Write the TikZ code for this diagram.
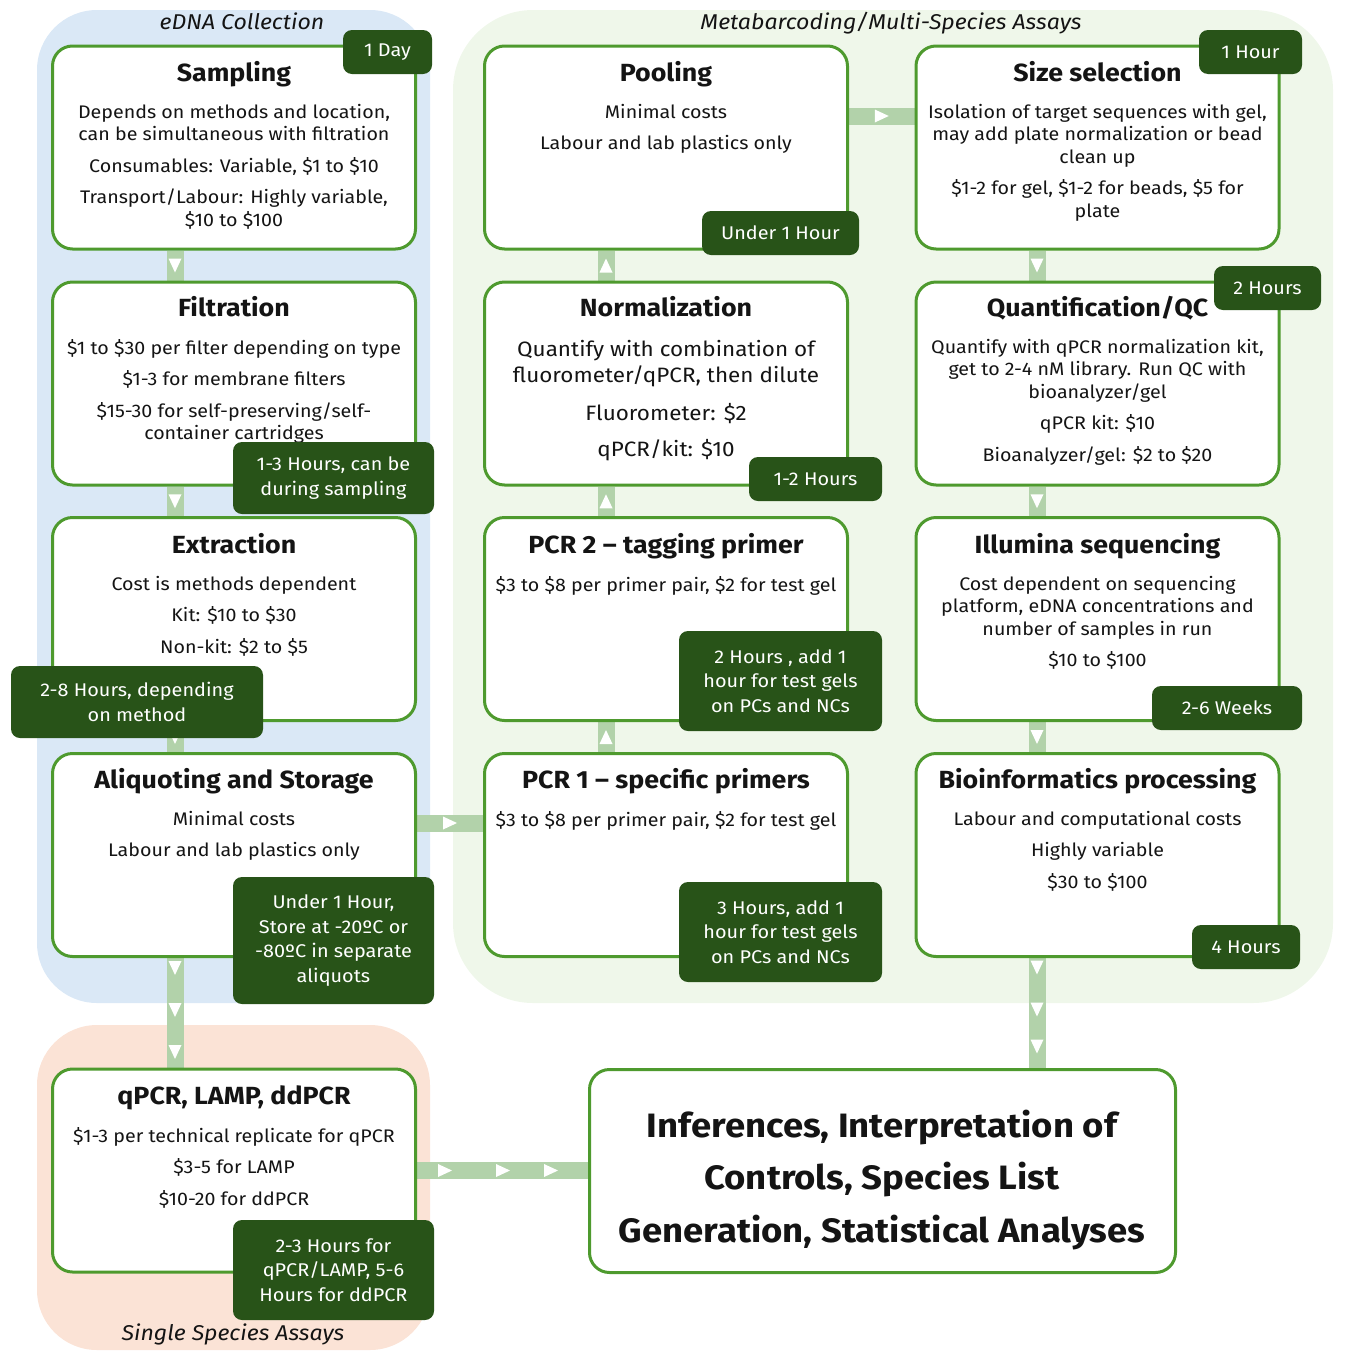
\documentclass[tikz,border=0pt]{standalone}
\usepackage{fontspec}
\setmainfont[FakeStretch=1.08]{Fira Sans}
\usetikzlibrary{decorations.markings,calc}
\pgfdeclarelayer{bg}
\pgfsetlayers{bg,main}
\definecolor{boxgreen}{RGB}{78,154,46}
\definecolor{tagdark}{RGB}{40,83,24}
\definecolor{conngreen}{RGB}{178,210,170}
\definecolor{bgblue}{RGB}{218,232,246}
\definecolor{bggreen}{RGB}{239,247,234}
\definecolor{bgpeach}{RGB}{251,227,214}
\definecolor{ink}{RGB}{20,20,20}
\newcommand\mybody{\fontsize{18.2}{22.5}\selectfont}
\newcommand\mytitle{\fontsize{24.8}{30}\selectfont\bfseries}
\newcommand\mytag{\fontsize{18.4}{24.5}\selectfont}
\newcommand\mynorm{\fontsize{20.8}{26}\selectfont}
\newcommand\myinf{\fontsize{33.8}{52.5}\selectfont\bfseries}
\newcommand\mysect{\fontsize{21.4}{25}\selectfont\itshape}
\begin{document}
\begin{tikzpicture}[x=1pt,y=-1pt,
  box/.style={draw=boxgreen, line width=3pt, fill=white, rounded corners=20pt,
    minimum width=363pt, minimum height=203pt, inner sep=0pt},
  tag/.style={fill=tagdark, rounded corners=9pt, text=white, align=center,
    font=\mytag, inner sep=0pt},
  ttl/.style={font=\mytitle, anchor=base, text=ink, inner sep=0pt},
  body/.style={font=\mybody, align=center, anchor=north, inner sep=0pt, text=ink},
  sect/.style={font=\mysect, anchor=base, text=ink, inner sep=0pt},
  conn/.style={draw=conngreen, line width=17pt},
  tri/.style={postaction={decorate, decoration={markings,
    mark=at position #1 with {\fill[white] (-7,-6.5) -- (7,0) -- (-7,6.5) -- cycle;}}}}
]
\useasboundingbox (0,0) rectangle (1349,1358);

% background regions
\begin{pgfonlayer}{bg}
\fill[bgblue, rounded corners=60pt] (37,10) rectangle (430,1003);
\fill[bggreen, rounded corners=80pt] (453,10) rectangle (1333,1003);
\fill[bgpeach, rounded corners=60pt] (37,1025) rectangle (430,1350);
\end{pgfonlayer}

\node[sect] (secA) at (242,29) {eDNA Collection};
\node[sect] (secB) at (891,29) {Metabarcoding/Multi-Species Assays};
\node[sect] (secC) at (233,1340) {Single Species Assays};

% boxes
\node[box] (S)  at (234,147.5) {};
\node[box] (F)  at (234,383.5) {};
\node[box] (E)  at (234,619) {};
\node[box] (A)  at (234,855) {};
\node[box] (Q)  at (234,1170.5) {};
\node[box] (PO) at (666,147.5) {};
\node[box] (N)  at (666,383.5) {};
\node[box] (P2) at (666,619) {};
\node[box] (P1) at (666,855) {};
\node[box] (SZ) at (1097.5,147.5) {};
\node[box] (QC) at (1097.5,383.5) {};
\node[box] (IL) at (1097.5,619) {};
\node[box] (BI) at (1097.5,855) {};
\node[box, minimum width=586pt] (INF) at (882.5,1171) {};

% connectors
\begin{pgfonlayer}{bg}
\path[conn,tri=0.5] ($(S.south)+(-59,0)$) -- ($(F.north)+(-59,0)$);
\path[conn,tri=0.5] ($(F.south)+(-59,0)$) -- ($(E.north)+(-59,0)$);
\path[conn,tri=0.5] ($(E.south)+(-59,0)$) -- ($(A.north)+(-59,0)$);
\path[conn,tri=10pt,tri=52pt,tri=94pt] ($(A.south)+(-59,0)$) -- ($(Q.north)+(-59,0)$);
\path[conn,tri=0.5] ($(A.east)+(0,-32)$) -- ($(P1.west)+(0,-32)$);
\path[conn,tri=0.5] ($(P1.north)+(-60,0)$) -- ($(P2.south)+(-60,0)$);
\path[conn,tri=0.5] ($(P2.north)+(-60,0)$) -- ($(N.south)+(-60,0)$);
\path[conn,tri=0.5] ($(N.north)+(-60,0)$) -- ($(PO.south)+(-60,0)$);
\path[conn,tri=0.5] ($(PO.east)+(0,-31.5)$) -- ($(SZ.west)+(0,-31.5)$);
\path[conn,tri=0.5] ($(SZ.south)+(-60.5,0)$) -- ($(QC.north)+(-60.5,0)$);
\path[conn,tri=0.5] ($(QC.south)+(-60.5,0)$) -- ($(IL.north)+(-60.5,0)$);
\path[conn,tri=0.5] ($(IL.south)+(-60.5,0)$) -- ($(BI.north)+(-60.5,0)$);
\coordinate (bistart) at ($(BI.south)+(-60.5,0)$);
\path[conn,tri=9.5pt,tri=51.5pt,tri=88.5pt] (bistart) -- (bistart |- INF.north);
\path[conn,tri=28pt,tri=86pt,tri=134pt] (Q.east) -- (Q.east -| INF.west);
\end{pgfonlayer}

% titles
\node[ttl] (Sh)  at (234,81.5) {Sampling};
\node[ttl] (Fh)  at (234,316.5) {Filtration};
\node[ttl] (Eh)  at (234,553.5) {Extraction};
\node[ttl] (Ah)  at (234,788.5) {Aliquoting and Storage};
\node[ttl] (Qh)  at (234,1104.5) {qPCR, LAMP, ddPCR};
\node[ttl] (POh) at (666,81.5) {Pooling};
\node[ttl] (Nh)  at (666,316.5) {Normalization};
\node[ttl] (P2h) at (666,553.5) {PCR 2 – tagging primer};
\node[ttl] (P1h) at (666,788.5) {PCR 1 – specific primers};
\node[ttl] (SZh) at (1097.5,81.5) {Size selection};
\node[ttl] (QCh) at (1097.5,316.5) {Quantification/QC};
\node[ttl] (ILh) at (1097.5,553.5) {Illumina sequencing};
\node[ttl] (BIh) at (1097.5,788.5) {Bioinformatics processing};

% body texts
\node[body] (Sb) at (234,104) {Depends on methods and location,\\can be simultaneous with filtration\\[9pt]Consumables: Variable, \$1 to \$10\\[9pt]Transport/Labour: Highly variable,\\\$10 to \$100};
\node[body] (Fb) at (234,339) {\$1 to \$30 per filter depending on type\\[9pt]\$1-3 for membrane filters\\[9pt]\$15-30 for self-preserving/self-\\container cartridges};
\node[body] (Eb) at (234,576) {Cost is methods dependent\\[9pt]Kit: \$10 to \$30\\[9pt]Non-kit: \$2 to \$5};
\node[body] (Ab) at (234,811) {Minimal costs\\[9pt]Labour and lab plastics only};
\node[body] (Qb) at (234,1127) {\$1-3 per technical replicate for qPCR\\[9pt]\$3-5 for LAMP\\[9pt]\$10-20 for ddPCR};
\node[body] (POb) at (666,104) {Minimal costs\\[9pt]Labour and lab plastics only};
\node[body, font=\mynorm] (Nb) at (666,340) {Quantify with combination of\\fluorometer/qPCR, then dilute\\[12pt]Fluorometer: \$2\\[10pt]qPCR/kit: \$10};
\node[body] (P2b) at (666,576) {\$3 to \$8 per primer pair, \$2 for test gel};
\node[body] (P1b) at (666,811) {\$3 to \$8 per primer pair, \$2 for test gel};
\node[body] (SZb) at (1097.5,104) {Isolation of target sequences with gel,\\may add plate normalization or bead\\clean up\\[9pt]\$1-2 for gel, \$1-2 for beads, \$5 for\\plate};
\node[body] (QCb) at (1097.5,339) {Quantify with qPCR normalization kit,\\get to 2-4 nM library. Run QC with\\bioanalyzer/gel\\[9pt]qPCR kit: \$10\\[9pt]Bioanalyzer/gel: \$2 to \$20};
\node[body] (ILb) at (1097.5,576) {Cost dependent on sequencing\\platform, eDNA concentrations and\\number of samples in run\\[9pt]\$10 to \$100};
\node[body] (BIb) at (1097.5,811) {Labour and computational costs\\[9pt]Highly variable\\[9pt]\$30 to \$100};
\node[body, font=\myinf] (INFb) at (882,1109.5) {Inferences, Interpretation of\\Controls, Species List\\Generation, Statistical Analyses};

% time tags
\node[tag, minimum width=89pt,  minimum height=44pt]  (t1)  at (387.5,52) {1 Day};
\node[tag, minimum width=201pt, minimum height=72pt]  (t2)  at (333.5,478) {1-3 Hours, can be\\during sampling};
\node[tag, minimum width=252pt, minimum height=72pt]  (t3)  at (137,702) {2-8 Hours, depending\\on method};
\node[tag, minimum width=201pt, minimum height=127pt] (t4)  at (333.5,940.5) {Under 1 Hour,\\Store at -20ºC or\\-80ºC in separate\\aliquots};
\node[tag, minimum width=201pt, minimum height=100pt] (t5)  at (333.5,1270) {2-3 Hours for\\qPCR/LAMP, 5-6\\Hours for ddPCR};
\node[tag, minimum width=157pt, minimum height=44pt]  (t6)  at (780.5,233) {Under 1 Hour};
\node[tag, minimum width=133pt, minimum height=44pt]  (t7)  at (815.5,479) {1-2 Hours};
\node[tag, minimum width=203pt, minimum height=100pt] (t8)  at (780.5,681) {2 Hours , add 1\\hour for test gels\\on PCs and NCs};
\node[tag, minimum width=203pt, minimum height=100pt] (t9)  at (780.5,932) {3 Hours, add 1\\hour for test gels\\on PCs and NCs};
\node[tag, minimum width=103pt, minimum height=44pt]  (t10) at (1250.5,52) {1 Hour};
\node[tag, minimum width=107pt, minimum height=44pt]  (t11) at (1267.5,288) {2 Hours};
\node[tag, minimum width=150pt, minimum height=44pt]  (t12) at (1227,708) {2-6 Weeks};
\node[tag, minimum width=108pt, minimum height=44pt]  (t13) at (1246,947) {4 Hours};
\end{tikzpicture}
\end{document}
